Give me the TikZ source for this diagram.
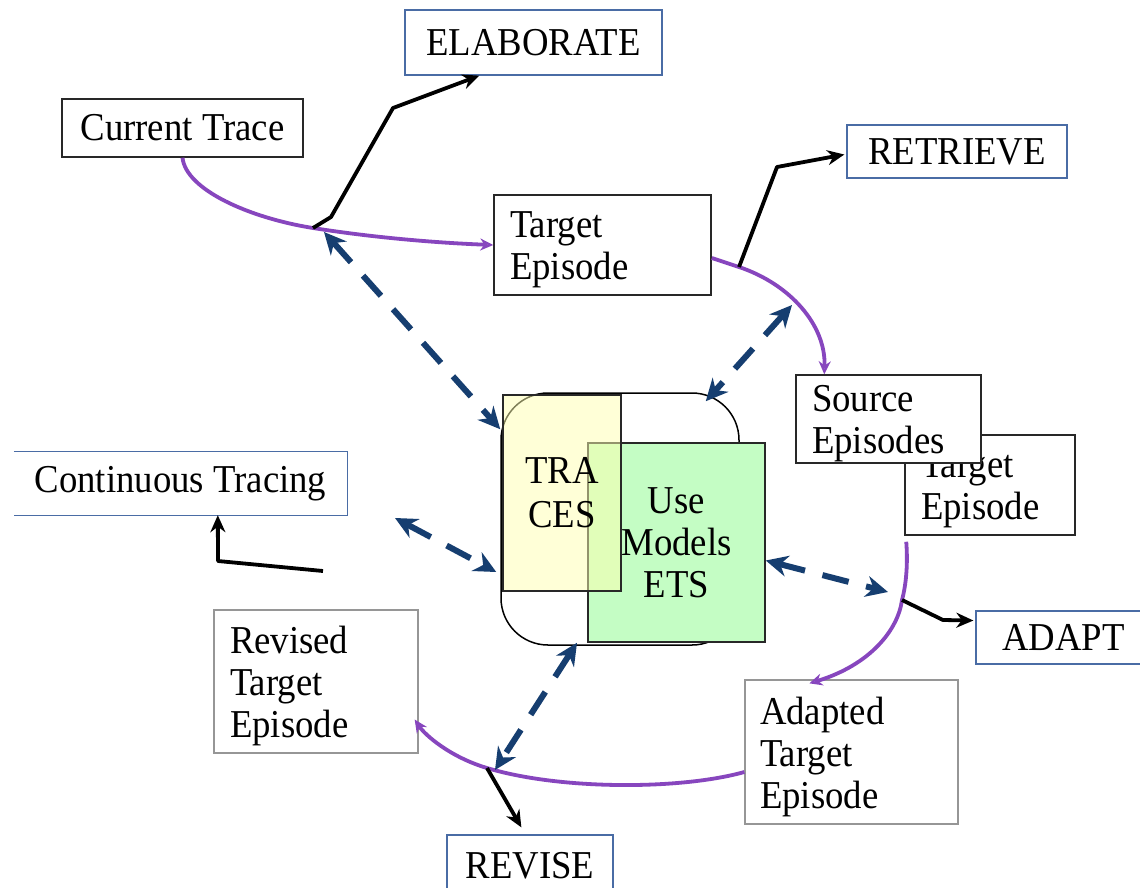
\documentclass[tikz,border=0pt]{standalone}
\usepackage{fontspec}
\setmainfont[FakeStretch=0.93]{Liberation Serif}
\usetikzlibrary{arrows.meta,calc}
\definecolor{bluebox}{RGB}{74,108,165}
\definecolor{graybox}{RGB}{150,150,150}
\definecolor{darkbox}{RGB}{40,40,40}
\definecolor{purp}{RGB}{135,70,190}
\definecolor{navy}{RGB}{22,62,112}
\definecolor{yel}{RGB}{255,255,176}
\definecolor{grn}{RGB}{196,253,196}
\begin{document}
\begin{tikzpicture}[x=1pt,y=-1pt,
  every node/.style={font=\fontsize{39.5}{42}\selectfont, inner sep=0pt, text=black},
  boxb/.style={draw=bluebox, line width=1.3pt, fill=white},
  boxd/.style={draw=darkbox, line width=1.5pt, fill=white},
  boxg/.style={draw=graybox, line width=1.3pt, fill=white},
  twolines/.style={text depth=41pt},
  threelines/.style={text depth=83pt},
  flow/.style={draw=purp, line width=3.8pt, -{Stealth[open,length=13pt,width=12pt]}},
  act/.style={draw=black, line width=3.8pt, line join=round, -{Stealth[length=17pt,width=15pt]}},
  link/.style={draw=navy, line width=6pt, dash pattern=on 27pt off 18pt,
    {Stealth[length=22pt,width=21pt]}-{Stealth[length=22pt,width=21pt]}}
]
\clip (0,0) rectangle (1140,887);
\fill[white] (0,0) rectangle (1140,887);

% boxes
\node[boxb, minimum width=257pt, minimum height=65pt] (elab) at (533.5,42.5) {ELABORATE};
\node[boxd, minimum width=241pt, minimum height=58pt] (cur) at (182.5,128) {Current Trace};
\node[boxd, twolines, minimum width=217pt, minimum height=100pt, text width=185pt, align=left] (tgt1) at (602.5,245) {Target\\Episode};
\node[boxb, minimum width=220pt, minimum height=53pt] (ret) at (957,151.5) {RETRIEVE};
\node[boxd, twolines, minimum width=170pt, minimum height=100pt, text width=138pt, align=left] (tgt2) at (990,485) {Target\\Episode};
\node[boxd, twolines, minimum width=185pt, minimum height=88pt, text width=153pt, align=left] (src) at (888.5,419) {Source\\Episodes};
\node[minimum width=333pt, minimum height=63pt] (cont) at (180.5,483.5) {Continuous Tracing};
\draw[bluebox, line width=1.3pt] (cont.north west) -- (cont.north east) -- (cont.south east) -- (cont.south west);
\node[boxg, threelines, minimum width=204pt, minimum height=143pt, text width=172pt, align=left] (rev) at (316,681.5) {Revised\\Target\\Episode};
\node[boxb, minimum width=166pt, minimum height=62pt] (revise) at (530,866) {REVISE};
\node[boxb, minimum width=175pt, minimum height=53pt] (adapt) at (1063.5,637.5) {ADAPT};
\node[boxg, threelines, minimum width=213pt, minimum height=144pt, text width=183pt, align=left] (adp) at (851.5,752) {Adapted\\Target\\Episode};

% central knowledge box
\node[draw=black, line width=1.5pt, rounded corners=47pt, minimum width=238pt, minimum height=252pt] (core) at (620,519) {};
\node[draw=darkbox, line width=1.5pt, fill=grn, minimum width=177pt, minimum height=199pt, align=center] (ets) at (676.5,542.5) {Use\\Models\\ETS};
\node[draw=darkbox, line width=1.5pt, fill=yel, fill opacity=0.5, text opacity=1, minimum width=118pt, minimum height=196pt, align=center, font=\fontsize{39.5}{44}\selectfont] (trc) at (562,493) {TRA\\CES};

% junction coordinates
\coordinate (j1) at (313,228);
\coordinate (j2) at (739,267);
\coordinate (j3) at (902,600);
\coordinate (j4) at (487,768);
\coordinate (ct) at (323,571);
\coordinate (d1) at (324,232);
\coordinate (d2) at (792,305);
\coordinate (d3) at (395,518);
\coordinate (d4) at (888,592);
\coordinate (d5) at (495,770);

% flow curves
\draw[flow] (cur.south) .. controls (186,190) and (250,218) .. (j1)
  .. controls (376,238) and (440,243) .. (tgt1.west);
\draw[flow] ([yshift=-13pt]tgt1.east) -- (j2)
  .. controls (790,284) and (826,325) .. ($(src.north west)+(29,0)$);
\draw[flow] ($(tgt2.south west)+(2,6)$) .. controls (908,565) and (906,585) .. (j3)
  .. controls (898,630) and (870,665) .. ($(adp.north west)+(65,4)$);
\draw[flow] ($(adp.west)+(0,20)$) .. controls (680,790) and (560,790) .. (j4)
  .. controls (450,757) and (425,735) .. ($(rev.east)+(-4,38)$);

% action arrows
\draw[act] (j1) -- (331,217) -- (393,108) -- ($(elab.south west)+(75,0)$);
\draw[act] (j2) -- (777,167) -- ($(ret.west)+(-2,3)$);
\draw[act] (j3) -- (943,620) -- ($(adapt.west)+(-2,-17)$);
\draw[act] (j4) -- ($(revise.north west)+(75,-7)$);
\draw[act] (ct) -- (218,561) -- ($(cont.south west)+(204,0)$);

% dashed links
\draw[link] (d1) -- ($(core.north west)+(0,37)$);
\draw[link] (d2) -- ($(core.north east)+(-34,9)$);
\draw[link] (d3) -- ($(core.west)+(-4,53)$);
\draw[link] ($(ets.east)+(0,18)$) -- (d4);
\draw[link] ($(core.south)+(-43,-3)$) -- (d5);
\end{tikzpicture}
\end{document}
